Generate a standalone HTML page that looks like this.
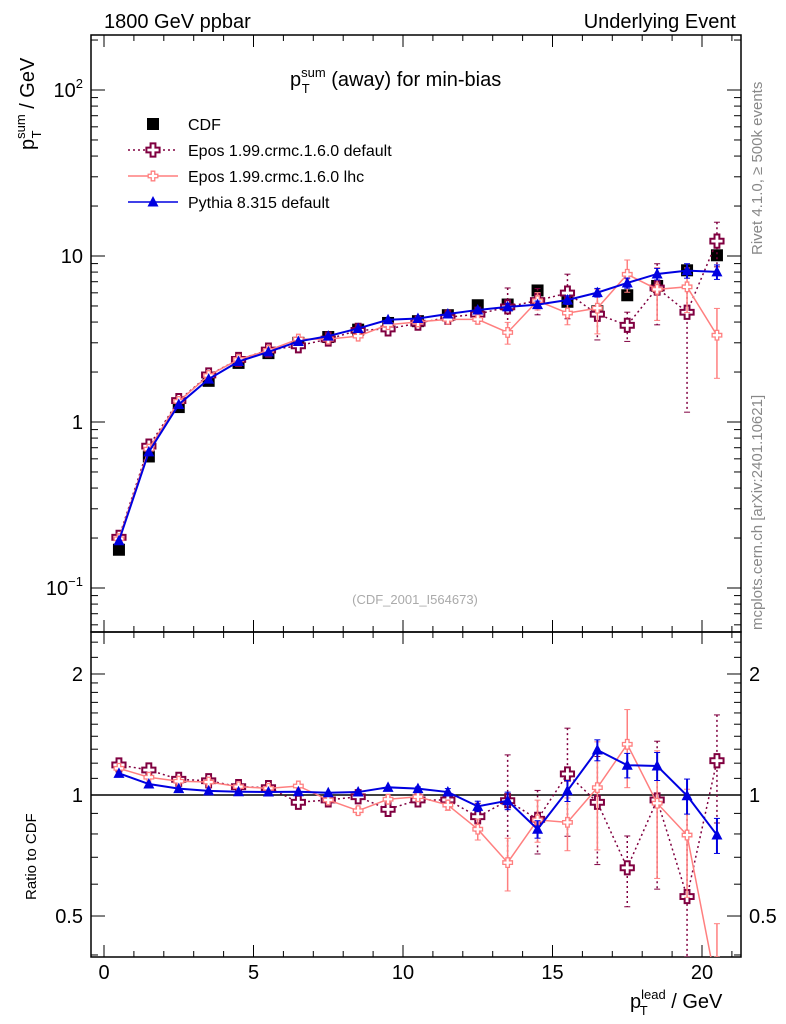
<!DOCTYPE html>
<html><head><meta charset="utf-8"><style>
html,body{margin:0;padding:0;background:#fff;overflow:hidden;width:786px;height:1024px}
svg{display:block}
svg text{font-family:"Liberation Sans",sans-serif}
</style></head><body>
<svg id="c" width="786" height="1024" xmlns="http://www.w3.org/2000/svg">
<text x="104" y="28" font-size="20">1800 GeV ppbar</text>
<text x="736" y="28" font-size="20" text-anchor="end">Underlying Event</text>
<text x="290" y="86" font-size="20">p<tspan font-size="13" dy="-9">sum</tspan><tspan font-size="13" dx="-24" dy="16">T</tspan><tspan dy="-7" dx="16"> (away) for min-bias</tspan></text>
<text x="415" y="604" font-size="13" fill="#aaa" text-anchor="middle">(CDF_2001_I564673)</text>
<text transform="translate(762,255) rotate(-90)" font-size="15" fill="#888">Rivet 4.1.0, ≥ 500k events</text>
<text transform="translate(762,630) rotate(-90)" font-size="15" fill="#888">mcplots.cern.ch [arXiv:2401.10621]</text>
<text transform="translate(34,150) rotate(-90)" font-size="20">p<tspan font-size="13" dy="-9">sum</tspan><tspan font-size="13" dx="-24" dy="16">T</tspan><tspan dy="-7" dx="16"> / GeV</tspan></text>
<text transform="translate(36,900) rotate(-90)" font-size="15">Ratio to CDF</text>
<text x="630" y="1008" font-size="20">p<tspan font-size="13" dy="-9">lead</tspan><tspan font-size="13" dx="-26" dy="16">T</tspan><tspan dy="-7" dx="18"> / GeV</tspan></text>
<g id="legend"></g>
<g id="g"></g>
</svg>
<script>
const xc=[0.5,1.5,2.5,3.5,4.5,5.5,6.5,7.5,8.5,9.5,10.5,11.5,12.5,13.5,14.5,15.5,16.5,17.5,18.5,19.5,20.5];
const cdf=[0.17,0.62,1.23,1.77,2.27,2.6,3.0,3.25,3.6,3.95,4.05,4.4,5.05,5.1,6.2,5.3,4.65,5.8,6.6,8.2,10.1];
const rDef=[1.188,1.154,1.094,1.085,1.049,1.043,0.959,0.972,0.990,0.921,0.972,0.972,0.883,0.968,0.870,1.128,0.959,0.659,0.972,0.559,1.217];
const rLhc=[1.165,1.107,1.082,1.077,1.049,1.039,1.053,0.972,0.914,0.976,0.990,0.944,0.822,0.679,0.867,0.855,1.043,1.337,0.954,0.795,0.33];
const rPy=[1.132,1.065,1.037,1.024,1.019,1.017,1.019,1.013,1.017,1.045,1.037,1.017,0.937,0.968,0.822,1.025,1.294,1.186,1.181,0.996,0.795];
const eDef=[0,0,0,0,0,0,0.01,0.01,0.02,0.03,0.03,0.04,0.08,0.3,0.18,0.3,0.3,0.2,0.4,0.75,0.3];
const eLhc=[0,0,0,0,0,0,0.01,0.01,0.02,0.02,0.02,0.03,0.06,0.15,0.12,0.15,0.3,0.22,0.35,0.3,0.45];
const ePy=[0,0,0,0,0,0,0,0,0,0,0.01,0.02,0.03,0.05,0.05,0.06,0.06,0.07,0.08,0.1,0.1];
const L=91,R=741,T=35,M=632,B=957;
const X=v=>104+29.9*v;
const Y=v=>422-166*Math.log10(v);
const YR=v=>795-402*Math.log10(v);
const NS='http://www.w3.org/2000/svg';
const g=document.getElementById('g');
function el(t,a,p){const e=document.createElementNS(NS,t);for(const k in a)e.setAttribute(k,a[k]);(p||g).appendChild(e);return e;}
const clipM=el('clipPath',{id:'cm'});el('rect',{x:L,y:T,width:R-L,height:M-T},clipM);
const clipR=el('clipPath',{id:'cr'});el('rect',{x:L,y:M,width:R-L,height:B-M},clipR);
let f1=el('rect',{x:L,y:T,width:R-L,height:M-T,fill:'none',stroke:'#000','stroke-width':1.5});


let f2=el('rect',{x:L,y:M,width:R-L,height:B-M,fill:'none',stroke:'#000','stroke-width':1.5});


for(let i=0;i<=21;i++){const x=X(i);const maj=i%5==0;const len=maj?12:6;
 for(const [y0,y1] of [[B,B-len],[M,M-len],[M,M+len],[T,T+len]]) el('line',{x1:x,x2:x,y1:y0,y2:y1,stroke:'#000','stroke-width':1});
 if(maj){const t=el('text',{x:x,y:B+22,'font-size':20,'text-anchor':'middle'});t.textContent=i;
 
 }}
for(let d=-2;d<=2;d++)for(let k=1;k<10;k++){const v=k*Math.pow(10,d);const y=Y(v);if(y<T||y>M)continue;const len=k==1?14:7;
 el('line',{x1:L,x2:L+len,y1:y,y2:y,stroke:'#000'});el('line',{x1:R,x2:R-len,y1:y,y2:y,stroke:'#000'});
 if(k==1){const t=el('text',{x:L-8,y:y+7,'font-size':20,'text-anchor':'end'});
 t.innerHTML=d==-1?'10<tspan font-size="13" dy="-9">−1</tspan>':d==2?'10<tspan font-size="13" dy="-9">2</tspan>':String(v);
 
 }}
const rt=[0.4,0.5,0.6,0.7,0.8,0.9,1,1.1,1.2,1.3,1.4,1.5,1.6,1.7,1.8,1.9,2,2.2,2.4];
rt.forEach(v=>{const y=YR(v);if(y<M||y>B)return;const maj=(v==0.5||v==1||v==2);const len=maj?14:7;
 el('line',{x1:L,x2:L+len,y1:y,y2:y,stroke:'#000'});el('line',{x1:R,x2:R-len,y1:y,y2:y,stroke:'#000'});
 if(maj){for(const [xx,an] of [[L-8,'end'],[R+8,'start']]){const t=el('text',{x:xx,y:y+7,'font-size':20,'text-anchor':an});t.textContent=v;
 
 }}});
el('line',{x1:L,x2:R,y1:YR(1),y2:YR(1),stroke:'#000','stroke-width':1.5});
function cross(p,x,y,c,s,k){const a=2.2*k,b=6*k;el('path',{d:`M${x-a},${y-b}H${x+a}V${y-a}H${x+b}V${y+a}H${x+a}V${y+b}H${x-a}V${y+a}H${x-b}V${y-a}H${x-a}Z`,fill:'#fff',stroke:c,'stroke-width':s},p);}
function tri(p,x,y,c){el('path',{d:`M${x},${y-6}L${x+5.5},${y+4.5}L${x-5.5},${y+4.5}Z`,fill:c},p);}
function series(vals,errs,color,dash,mk,ratio,name){
 const gp=el('g',{'clip-path':ratio?'url(#cr)':'url(#cm)'});
 
 
 const lo=ratio?M:T, hi=ratio?B:M;
 const cl=y=>Math.max(lo,Math.min(hi,y));
 const yf=v=>cl((ratio?YR:Y)(v));
 const yraw=ratio?YR:Y;
 let d='';vals.forEach((v,i)=>{d+=(i?'L':'M')+X(xc[i])+','+yf(v);});
 if(color){
  // draw line using raw positions, but clip last segment to frame
  let dd='';vals.forEach((v,i)=>{let y=yraw(v),x=X(xc[i]);
   if(y>hi&&i>0){const yp=yraw(vals[i-1]),xp=X(xc[i-1]);x=xp+(x-xp)*(hi-yp)/(y-yp);y=hi;}
   if(y<lo&&i>0){const yp=yraw(vals[i-1]),xp=X(xc[i-1]);x=xp+(x-xp)*(lo-yp)/(y-yp);y=lo;}
   dd+=(i?'L':'M')+x+','+y;});
  el('path',{d:dd,fill:'none',stroke:color,'stroke-width':mk=='tri'?2:1.5,'stroke-dasharray':dash||'none'},gp);}
 vals.forEach((v,i)=>{const x=X(xc[i]),yr=yraw(v);const e=errs?errs[i]*v:0;
  if(e>0){const y1=yf(v+e),y2=yf(Math.max(v-e,1e-3));
   el('line',{x1:x,x2:x,y1:y1,y2:y2,stroke:color||'#000','stroke-width':mk=='tri'?2:1.5,'stroke-dasharray':dash||'none'},gp);
   el('line',{x1:x-3,x2:x+3,y1:y1,y2:y1,stroke:color||'#000'},gp);el('line',{x1:x-3,x2:x+3,y1:y2,y2:y2,stroke:color||'#000'},gp);}
  if(yr<lo-8||yr>hi+8)return;
  const y=yr;
  if(mk=='sq')el('rect',{x:x-6,y:y-6,width:12,height:12,fill:'#000'},gp);
  else if(mk=='tri')tri(gp,x,y,color);
  else if(mk=='crossB')cross(gp,x,y,color,2,1.1);
  else cross(gp,x,y,color,1.3,0.8);});
}
const def=cdf.map((c,i)=>c*rDef[i]), lhc=cdf.map((c,i)=>c*rLhc[i]), py=cdf.map((c,i)=>c*rPy[i]);
series(cdf,null,null,null,'sq',false,'cdf-data');
series(def,eDef,'#800040','2,3','crossB',false,'epos-default-series');
series(lhc,eLhc,'#ff7f7f',null,'cross',false,'epos-lhc-series');
series(py,ePy,'#0000e0',null,'tri',false,'pythia-series');
series(rDef,eDef,'#800040','2,3','crossB',true,'epos-default-ratio');
series(rLhc,eLhc,'#ff7f7f',null,'cross',true,'epos-lhc-ratio');
series(rPy,ePy,'#0000e0',null,'tri',true,'pythia-ratio');
const lg=document.getElementById('legend');
const items=[['CDF',null,'sq'],['Epos 1.99.crmc.1.6.0 default','#800040','crossB','2,3'],['Epos 1.99.crmc.1.6.0 lhc','#ff7f7f','cross'],['Pythia 8.315 default','#0000e0','tri']];
items.forEach((it,i)=>{const y=124+26*i;const eg=el('g',{},lg);
 
 
 if(it[1])el('line',{x1:128,x2:178,y1:y,y2:y,stroke:it[1],'stroke-width':1.5,'stroke-dasharray':it[3]||'none'},eg);
 if(it[2]=='sq')el('rect',{x:147,y:y-6,width:12,height:12,fill:'#000'},eg);
 else if(it[2]=='tri')tri(eg,153,y,it[1]);else if(it[2]=='crossB')cross(eg,153,y,it[1],2,1.1);else cross(eg,153,y,it[1],1.3,0.8);
 const t=el('text',{x:188,y:y+6,'font-size':16},eg);t.textContent=it[0];});
</script>
</body></html>
